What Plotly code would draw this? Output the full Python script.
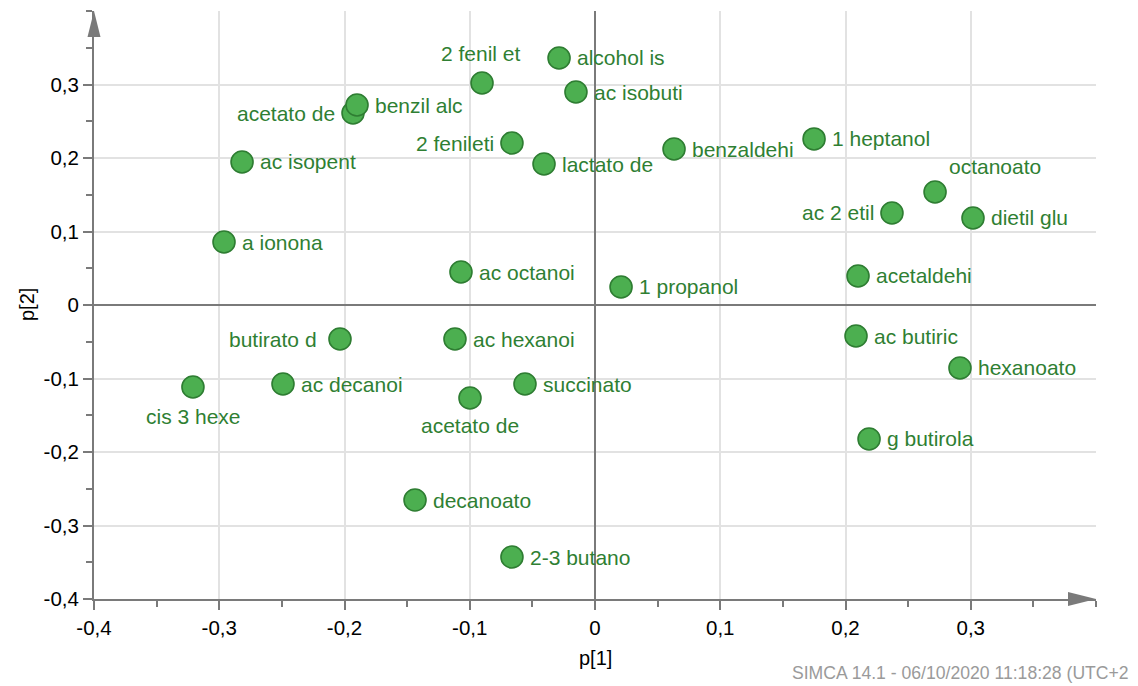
import plotly.graph_objects as go

# ---- data ----
names = ["alcohol is", "2 fenil et", "ac isobuti", "acetato de", "benzil alc",
         "2 fenileti", "lactato de", "benzaldehi", "1 heptanol", "octanoato",
         "ac 2 etil", "dietil glu", "ac isopent", "a ionona", "ac octanoi",
         "1 propanol", "acetaldehi", "butirato d", "ac hexanoi", "ac butiric",
         "hexanoato", "cis 3 hexe", "ac decanoi", "succinato", "acetato de",
         "g butirola", "decanoato", "2-3 butano"]
p1 = [-0.0287, -0.0902, -0.0152, -0.1932, -0.1900,
      -0.0663, -0.0407, 0.0631, 0.1749, 0.2715,
      0.2371, 0.3018, -0.2818, -0.2962, -0.1070,
      0.0208, 0.2100, -0.2036, -0.1118, 0.2084,
      0.2914, -0.3210, -0.2491, -0.0559, -0.0998,
      0.2188, -0.1437, -0.0663]
p2 = [0.3361, 0.3020, 0.2898, 0.2612, 0.2721,
      0.2204, 0.1918, 0.2122, 0.2259, 0.1537,
      0.1252, 0.1184, 0.1946, 0.0857, 0.0449,
      0.0245, 0.0395, -0.0463, -0.0463, -0.0422,
      -0.0857, -0.1116, -0.1075, -0.1075, -0.1265,
      -0.1823, -0.2653, -0.3429]
tick_vals = [-0.4, -0.3, -0.2, -0.1, 0, 0.1, 0.2, 0.3]
tick_text = ["-0,4", "-0,3", "-0,2", "-0,1", "0", "0,1", "0,2", "0,3"]

# label placement styles: (xanchor, xshift, yshift)
R = ("left", 16, 0)
L = ("right", -16, 0)
label_pos = [R, ("center", -1, 30), R, L, R,
             L, R, R, R, ("left", 12, 26),
             L, R, R, R, R,
             R, R, ("right", -21, 0), R, R,
             R, ("center", 1, -29), R, R, ("center", 0, -28),
             R, R, R]

GREEN_FILL = "#4caf50"
GREEN_LINE = "#2e7d32"
TEXT_GREEN = "#2f7f33"
FONT = "Liberation Sans, Arial, Helvetica, sans-serif"
AXIS_GRAY = "#7a7a7a"

W, H = 1138, 686
ML, MR, MT, MB = 94, 42, 11, 87
PW, PH = W - ML - MR, H - MT - MB


def px2paper_x(px):
    return (px - ML) / PW


def py2paper_y(py):
    return (H - MB - py) / PH


fig = go.Figure()
fig.add_trace(go.Scatter(
    x=p1, y=p2, mode="markers",
    marker=dict(size=22, color=GREEN_FILL, line=dict(color=GREEN_LINE, width=1.6)),
    hovertext=names, hoverinfo="text", showlegend=False, cliponaxis=False,
))

annotations = []
for n, x, y, (xa, xs, ys) in zip(names, p1, p2, label_pos):
    annotations.append(dict(
        x=x, y=y, xref="x", yref="y", text=n, showarrow=False,
        xanchor=xa, yanchor="middle", xshift=xs, yshift=ys,
        font=dict(family=FONT, size=21, color=TEXT_GREEN),
    ))

# footer
annotations.append(dict(
    x=px2paper_x(790), y=py2paper_y(673), xref="paper", yref="paper",
    text="SIMCA 14.1 - 06/10/2020 11:18:28 (UTC+2",
    showarrow=False, xanchor="left", yanchor="middle",
    font=dict(family=FONT, size=17.6, color="#9a9a9a"),
))
# axis titles
annotations.append(dict(
    x=px2paper_x(595), y=py2paper_y(658), xref="paper", yref="paper",
    text="p[1]", showarrow=False, xanchor="center", yanchor="middle",
    font=dict(family=FONT, size=20, color="#000"),
))
annotations.append(dict(
    x=px2paper_x(27), y=py2paper_y(305), xref="paper", yref="paper",
    text="p[2]", showarrow=False, xanchor="center", yanchor="middle", textangle=-90,
    font=dict(family=FONT, size=20, color="#000"),
))

# axis arrowheads
shapes = [
    dict(type="path", xref="paper", yref="paper",
         path=f"M {px2paper_x(94-6.5)},{py2paper_y(37)} L {px2paper_x(94+6.5)},{py2paper_y(37)} "
              f"L {px2paper_x(94)},{py2paper_y(11)} Z",
         fillcolor=AXIS_GRAY, line=dict(width=0)),
    dict(type="path", xref="paper", yref="paper",
         path=f"M {px2paper_x(1068)},{py2paper_y(599-7)} L {px2paper_x(1068)},{py2paper_y(599+7)} "
              f"L {px2paper_x(1096)},{py2paper_y(599)} Z",
         fillcolor=AXIS_GRAY, line=dict(width=0)),
]

axis_common = dict(
    range=[-0.4, 0.4], tickvals=tick_vals, ticktext=tick_text,
    showgrid=True, gridcolor="#e2e2e2", gridwidth=1.5,
    zeroline=True, zerolinecolor=AXIS_GRAY, zerolinewidth=2,
    showline=True, linecolor=AXIS_GRAY, linewidth=2,
    ticks="outside", ticklen=9, tickwidth=1.5, tickcolor=AXIS_GRAY,
    minor=dict(dtick=0.05, tick0=0, ticklen=6, tickwidth=1.5, tickcolor=AXIS_GRAY,
               ticks="outside", showgrid=False),
    tickfont=dict(family=FONT, size=20.5, color="#000000"),
    fixedrange=True, automargin=False,
)

fig.update_layout(
    width=W, height=H,
    margin=dict(l=ML, r=MR, t=MT, b=MB, pad=0, autoexpand=False),
    plot_bgcolor="white", paper_bgcolor="white",
    xaxis=dict(**axis_common),
    yaxis=dict(**axis_common),
    annotations=annotations, shapes=shapes,
    font=dict(family=FONT),
)

fig.write_html(
    "out.html",
    config={"displayModeBar": False},
    post_script="document.body.style.margin='0';document.body.style.padding='0';"
                "document.body.style.overflow='hidden';",
)
